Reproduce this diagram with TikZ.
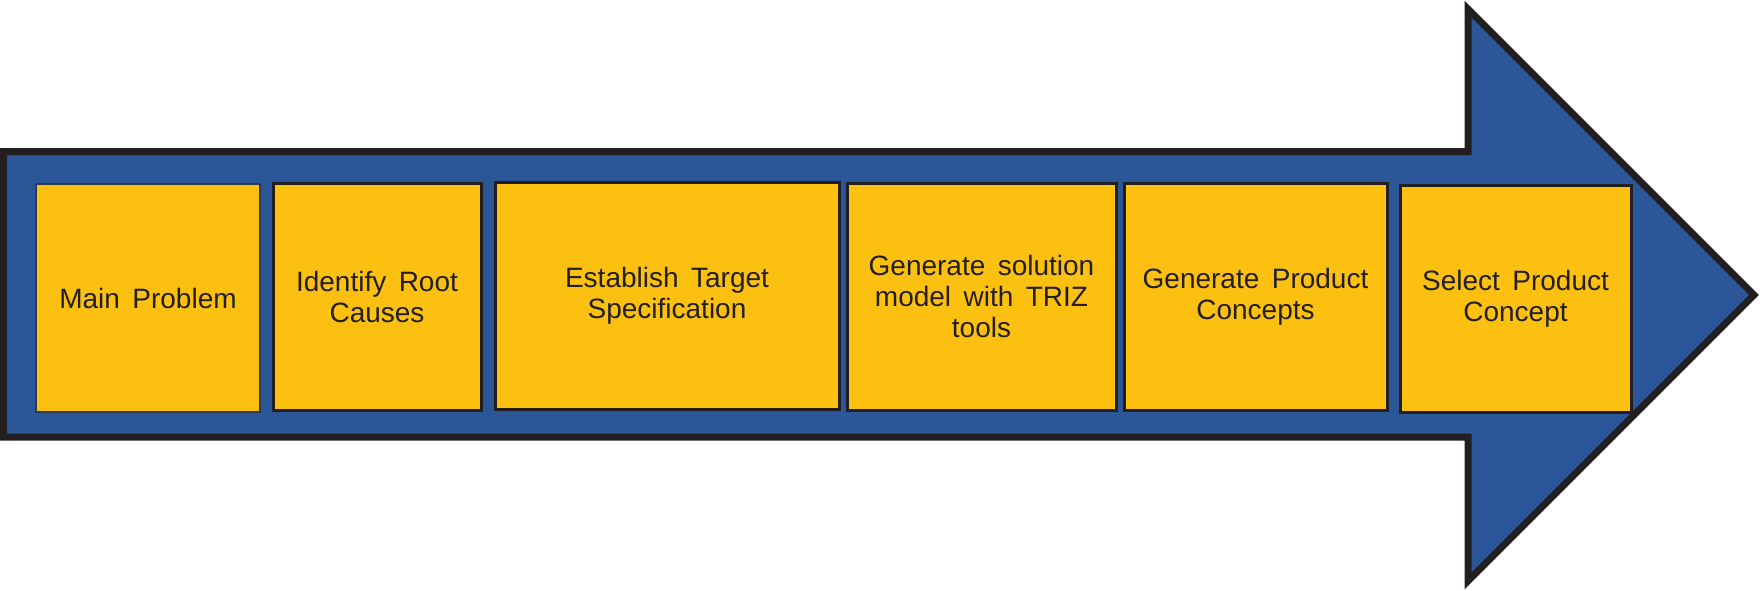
\documentclass[tikz,border=0pt]{standalone}
\usepackage{fontspec}
\setmainfont{Liberation Sans}[WordSpace=1.6]
\definecolor{arrowblue}{RGB}{43,86,151}
\definecolor{stageyellow}{RGB}{252,192,16}
\definecolor{inkdark}{RGB}{35,31,32}
\definecolor{inkslate}{RGB}{46,58,78}
\begin{document}
\begin{tikzpicture}[x=0.5pt,y=-0.5pt,
  stage/.style={draw=inkdark, line width=1.5pt, fill=stageyellow, align=center,
    inner sep=0pt, font=\fontsize{14}{15.5}\selectfont, text=inkdark},
  bigarrow/.style={draw=inkdark, fill=arrowblue, line width=3.5pt, line join=miter}]
\useasboundingbox (0,0) rectangle (1760,590);
% big arrow
\draw[bigarrow] (3.5,151.5) -- (1468,151.5) -- (1468,9) -- (1754,295)
  -- (1468,581) -- (1468,437) -- (3.5,437) -- cycle;
% stages
\node[stage, draw=inkslate, line width=1pt, minimum width=112pt, minimum height=114pt]
  (problem) at (148,298) {Main Problem};
\node[stage, minimum width=104pt, minimum height=113.5pt]
  (causes) at (377,296.5) {Identify Root\\Causes};
\node[stage, minimum width=172pt, minimum height=113.5pt]
  (target) at (667,295.5) {Establish Target\\Specification};
\node[stage, minimum width=134.5pt, minimum height=113.5pt]
  (triz) at (981.5,296.5) {Generate solution\\model with TRIZ\\tools};
\node[stage, minimum width=131.5pt, minimum height=113.5pt]
  (generate) at (1255.5,296.5) {Generate Product\\Concepts};
\node[stage, minimum width=115.5pt, minimum height=113.5pt]
  (select) at (1515.5,298.5) {Select Product\\Concept};
\end{tikzpicture}
\end{document}
